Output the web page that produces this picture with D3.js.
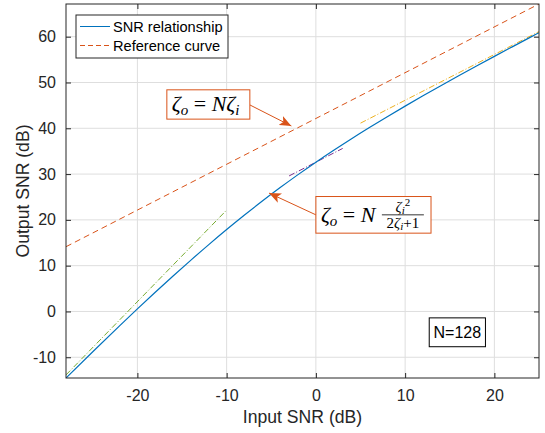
<!DOCTYPE html>
<html>
<head>
<meta charset="utf-8">
<script src="https://cdn.jsdelivr.net/npm/d3@7"></script>
<style>
  body { margin: 0; background: #fff; }
  svg { display: block; font-family: "Liberation Sans", Arial, sans-serif; }
  .grid line { stroke: #dedede; stroke-width: 1; }
  .tick text { fill: #262626; font-size: 16px; }
</style>
</head>
<body>
<svg id="chart" width="545" height="433"></svg>
<script>
// input SNR (dB) samples and output SNR
var snrIn  = [-28, -25, -22, -20, -18, -16, -14, -12, -10, -8, -6, -4, -2, 0, 2, 4, 6, 8, 10, 12, 14, 16, 18, 20, 22, 24, 25];
var snrOut = [-14.53, -8.79, -3.14, 0.56, 4.19, 7.75, 11.22, 14.60, 17.88, 21.05, 24.11, 27.05, 29.88, 32.60,
              35.21, 37.74, 40.18, 42.54, 44.84, 47.09, 49.29, 51.46, 53.59, 55.70, 57.78, 59.85, 60.88];

// reference curve zeta_o = N zeta_i (straight dashed line)
var refX = [-28, 25];
var refY = [14.14, 67.14];

// asymptote / tangent segments
var lowX = [-28, -10],  lowY = [-13.86, 22.14];   // green, low SNR
var midX = [-3, 3],     midY = [29.6, 35.6];      // purple, around 0 dB
var highX = [5, 25],    highY = [41.12, 61.12];   // yellow, high SNR

var xTicks = [-20, -10, 0, 10, 20];
var yTicks = [-10, 0, 10, 20, 30, 40, 50, 60];
var legendNames = ["SNR relationship", "Reference curve"];

var margin = { top: 4, right: 6, bottom: 55, left: 66 };
var W = 545, H = 433;
var width = W - margin.left - margin.right;
var height = H - margin.top - margin.bottom;

var svg = d3.select("#chart");
var g = svg.append("g").attr("transform", "translate(" + margin.left + "," + margin.top + ")");

var x = d3.scaleLinear().domain([-28, 25]).range([0, width]);
var y = d3.scaleLinear().domain([-14.53, 67.14]).range([height, 0]);

// grid
g.append("g").attr("class", "grid")
  .selectAll("line").data(xTicks).enter().append("line")
  .attr("x1", function(d) { return x(d); }).attr("x2", function(d) { return x(d); })
  .attr("y1", 0).attr("y2", height);
g.append("g").attr("class", "grid")
  .selectAll("line").data(yTicks).enter().append("line")
  .attr("y1", function(d) { return y(d); }).attr("y2", function(d) { return y(d); })
  .attr("x1", 0).attr("x2", width);

var pts = function(xs, ys) { return xs.map(function(v, i) { return [v, ys[i]]; }); };
var line = d3.line().x(function(d) { return x(d[0]); }).y(function(d) { return y(d[1]); });

g.append("clipPath").attr("id", "clip").append("rect").attr("width", width).attr("height", height);
var plot = g.append("g").attr("clip-path", "url(#clip)");

plot.append("path").datum(pts(refX, refY)).attr("d", line)
  .attr("fill", "none").attr("stroke", "#D95319").attr("stroke-width", 1).attr("stroke-dasharray", "6,4");
plot.append("path").datum(pts(lowX, lowY)).attr("d", line)
  .attr("fill", "none").attr("stroke", "#77AC30").attr("stroke-width", 1).attr("stroke-dasharray", "6,2,1,2");
plot.append("path").datum(pts(midX, midY)).attr("d", line)
  .attr("fill", "none").attr("stroke", "#7E2F8E").attr("stroke-width", 1).attr("stroke-dasharray", "6,2,1,2");
plot.append("path").datum(pts(highX, highY)).attr("d", line)
  .attr("fill", "none").attr("stroke", "#EDB120").attr("stroke-width", 1).attr("stroke-dasharray", "6,2,1,2");
plot.append("path").datum(pts(snrIn, snrOut)).attr("d", line.curve(d3.curveMonotoneX))
  .attr("fill", "none").attr("stroke", "#0072BD").attr("stroke-width", 1.2);

// axes, ticks pointing inward, box on all four sides
var fmt = function(d) { return String(d); };
var xAxis = d3.axisBottom(x).tickValues(xTicks).tickFormat(fmt).tickSizeInner(-5).tickSizeOuter(0).tickPadding(12);
var yAxis = d3.axisLeft(y).tickValues(yTicks).tickFormat(fmt).tickSizeInner(-5).tickSizeOuter(0).tickPadding(10);
g.append("g").attr("transform", "translate(0," + height + ")").call(xAxis);
g.append("g").call(yAxis);
g.append("g").call(d3.axisTop(x).tickValues(xTicks).tickSizeInner(-5).tickSizeOuter(0).tickFormat(""));
g.append("g").attr("transform", "translate(" + width + ",0)")
  .call(d3.axisRight(y).tickValues(yTicks).tickSizeInner(-5).tickSizeOuter(0).tickFormat(""));
g.selectAll(".domain").remove();
g.selectAll(".tick line").attr("stroke", "#262626");
g.append("rect").attr("width", width).attr("height", height)
  .attr("fill", "none").attr("stroke", "#262626").attr("stroke-width", 1);

svg.append("text").attr("x", margin.left + width / 2).attr("y", 423)
  .attr("text-anchor", "middle").attr("fill", "#262626").style("font-size", "17.6px")
  .text("Input SNR (dB)");
svg.append("text").attr("transform", "translate(29," + (margin.top + height / 2) + ") rotate(-90)")
  .attr("text-anchor", "middle").attr("fill", "#262626").style("font-size", "17.6px")
  .text("Output SNR (dB)");

// legend
var leg = svg.append("g").attr("transform", "translate(76,15)");
leg.append("rect").attr("width", 152).attr("height", 43)
  .attr("fill", "#fff").attr("stroke", "#262626").attr("stroke-width", 1);
var legStyle = [["#0072BD", null], ["#D95319", "5,3"]];
legendNames.forEach(function(name, i) {
  var ly = 11.5 + i * 19;
  leg.append("line").attr("x1", 4).attr("x2", 34).attr("y1", ly).attr("y2", ly)
    .attr("stroke", legStyle[i][0]).attr("stroke-width", 1)
    .attr("stroke-dasharray", legStyle[i][1]);
  leg.append("text").attr("x", 37).attr("y", ly + 5).attr("fill", "#000")
    .style("font-size", "14.6px").text(name);
});

// annotations
var orange = "#D95319";
svg.append("defs").append("marker").attr("id", "head")
  .attr("viewBox", "0 0 12 10").attr("refX", 12).attr("refY", 5)
  .attr("markerWidth", 12).attr("markerHeight", 10).attr("markerUnits", "userSpaceOnUse")
  .attr("orient", "auto")
  .append("path").attr("d", "M0,0 L12,5 L0,10 L3,5 Z").attr("fill", orange);

var ann = g.append("g");
function arrow(x0, y0, x1, y1) {
  ann.append("line").attr("x1", x(x0)).attr("y1", y(y0)).attr("x2", x(x1)).attr("y2", y(y1))
    .attr("stroke", orange).attr("stroke-width", 1).attr("marker-end", "url(#head)");
}
function box(x0, y0, x1, y1, col) {
  return ann.append("rect").attr("x", x(x0)).attr("y", y(y0))
    .attr("width", x(x1) - x(x0)).attr("height", y(y1) - y(y0))
    .attr("fill", "#fff").attr("stroke", col).attr("stroke-width", 1);
}
arrow(-7.4, 45.1, -2.75, 40.5);
arrow(0, 21.1, -5.25, 25.85);

box(-16.7, 48.4, -7.4, 42.0, orange);
var serif = "'Liberation Serif', 'Times New Roman', serif";
var t1 = ann.append("text").attr("x", x(-16.7) + 5).attr("y", y(45.2) + 7)
  .style("font-family", serif).style("font-size", "22px").attr("fill", "#000");
t1.append("tspan").style("font-style", "italic").text("ζ");
t1.append("tspan").style("font-style", "italic").style("font-size", "15px").attr("dy", 4).text("o");
t1.append("tspan").attr("dy", -4).text(" = ");
t1.append("tspan").style("font-style", "italic").text("N");
t1.append("tspan").style("font-style", "italic").text("ζ");
t1.append("tspan").style("font-style", "italic").style("font-size", "15px").attr("dy", 4).text("i");

box(0, 25.1, 12.9, 17.1, orange);
var bx = x(0), by = y(21.1);
var t2 = ann.append("text").attr("x", bx + 5).attr("y", by + 7)
  .style("font-family", serif).style("font-size", "22px").attr("fill", "#000");
t2.append("tspan").style("font-style", "italic").text("ζ");
t2.append("tspan").style("font-style", "italic").style("font-size", "15px").attr("dy", 4).text("o");
t2.append("tspan").attr("dy", -4).text(" = ");
t2.append("tspan").style("font-style", "italic").text("N");
var fx = bx + 66, fw = 42;
ann.append("line").attr("x1", fx).attr("x2", fx + fw).attr("y1", by).attr("y2", by)
  .attr("stroke", "#000").attr("stroke-width", 0.8);
var num = ann.append("text").attr("x", fx + fw / 2).attr("y", by - 3).attr("text-anchor", "middle")
  .style("font-family", serif).style("font-size", "15px").attr("fill", "#000");
num.append("tspan").style("font-style", "italic").text("ζ");
num.append("tspan").style("font-style", "italic").style("font-size", "11px").attr("dy", 2).text("i");
num.append("tspan").style("font-size", "11px").attr("dy", -8).text("2");
var den = ann.append("text").attr("x", fx + fw / 2).attr("y", by + 13).attr("text-anchor", "middle")
  .style("font-family", serif).style("font-size", "15px").attr("fill", "#000");
den.append("tspan").text("2");
den.append("tspan").style("font-style", "italic").text("ζ");
den.append("tspan").style("font-style", "italic").style("font-size", "11px").attr("dy", 2).text("i");
den.append("tspan").attr("dy", -2).text("+1");

// N label
var nb = g.append("g");
nb.append("rect").attr("x", x(12.7)).attr("y", y(-1.4))
  .attr("width", x(19.0) - x(12.7)).attr("height", y(-7.7) - y(-1.4))
  .attr("fill", "#fff").attr("stroke", "#000").attr("stroke-width", 1);
nb.append("text").attr("x", (x(12.7) + x(19.0)) / 2).attr("y", y(-4.55) + 6)
  .attr("text-anchor", "middle").style("font-size", "16px").attr("fill", "#000").text("N=128");
</script>
</body>
</html>
